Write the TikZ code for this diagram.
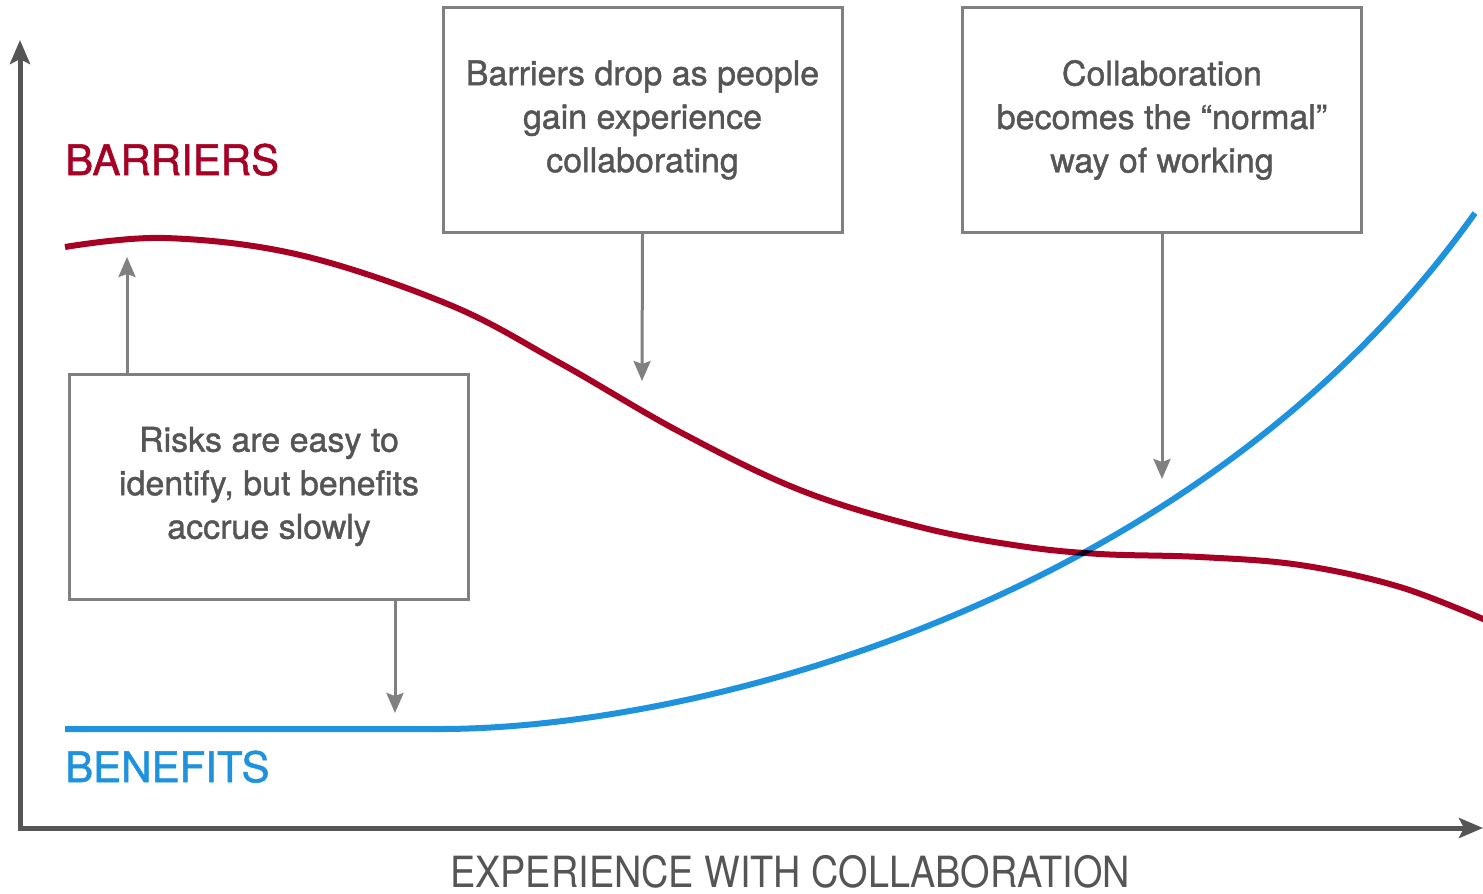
\documentclass[tikz,border=0pt]{standalone}
\usepackage{fontspec}
\setmainfont{TeX Gyre Heros}
\newfontfamily\notefont[FakeBold=1.2]{TeX Gyre Heros}
\newfontfamily\axisfont[FakeStretch=0.88]{TeX Gyre Heros}
\usetikzlibrary{arrows.meta,positioning}
\definecolor{barrierred}{RGB}{166,0,36}
\definecolor{benefitblue}{RGB}{30,146,220}
\definecolor{axisgray}{RGB}{85,85,85}
\definecolor{boxgray}{RGB}{128,128,128}
\definecolor{textgray}{RGB}{85,85,85}
\tikzset{
    axis/.style={draw=axisgray, line width=5pt, -{Stealth[length=24pt,width=20pt,inset=5pt]}},
    note/.style={rectangle, draw=boxgray, line width=3pt, align=center, text=textgray,
        minimum width=399pt, minimum height=225pt, inner sep=0pt,
        font=\notefont\fontsize{34}{43.5}\selectfont},
    pointer/.style={draw=boxgray, line width=3pt, -{Stealth[length=20pt,width=17pt,inset=3pt]}},
    curve/.style={line width=6pt},
    tag/.style={anchor=base west, inner sep=0pt, font=\notefont\fontsize{42}{42}\selectfont}
}

\begin{document}
\begin{tikzpicture}[x=1pt, y=-1pt]
    \useasboundingbox (0,0) rectangle (1483,894);

    % axes
    \coordinate (origin) at (20,828);
    \coordinate (ytop) at (20,40);
    \coordinate (xend) at (1483,828);
    \draw[axis] ([yshift=-2.5pt]origin) -- (ytop);
    \draw[axis] ([xshift=-2.5pt]origin) -- (xend);
    \node[anchor=base, inner sep=0pt, text=axisgray, font=\axisfont\fontsize{43}{43}\selectfont]
        (xlabel) at (790,887) {EXPERIENCE WITH COLLABORATION};

    % the two curves
    \begin{scope}[blend group=multiply]
        \draw[curve, barrierred, smooth, tension=0.6] plot coordinates {(65,247) (165,238)
            (300,255) (450,305) (560,363) (680,432) (800,490) (920,527) (1020,546)
            (1100,554) (1200,557) (1300,565) (1400,587) (1490,622)};
        \draw[curve, benefitblue] (65,729) -- (440,729)
            .. controls (700,729) and (1200,600) .. (1475,213);
    \end{scope}
    \node[tag, text=barrierred] (barriers) at (65,175) {BARRIERS};
    \node[tag, text=benefitblue] (benefits) at (65,782) {BENEFITS};

    % notes
    \node[note] (drop) at (642.5,120) {Barriers drop as people\\gain experience\\collaborating};
    \node[note] (normal) at (1162,120) {Collaboration\\becomes the “normal”\\way of working};
    \node[note] (risks) at (269,486.5) {Risks are easy to\\identify, but benefits\\accrue slowly};

    \coordinate (droptip) at (642,381);
    \coordinate (normaltip) at (1162,479);
    \coordinate (risktip) at (127,257);
    \coordinate (slowtip) at (395,713);
    \draw[pointer] (drop.south) -- (droptip);
    \draw[pointer] (normal.south) -- (normaltip);
    \draw[pointer] (risks.north -| risktip) -- (risktip);
    \draw[pointer] (risks.south -| slowtip) -- (slowtip);
\end{tikzpicture}
\end{document}
